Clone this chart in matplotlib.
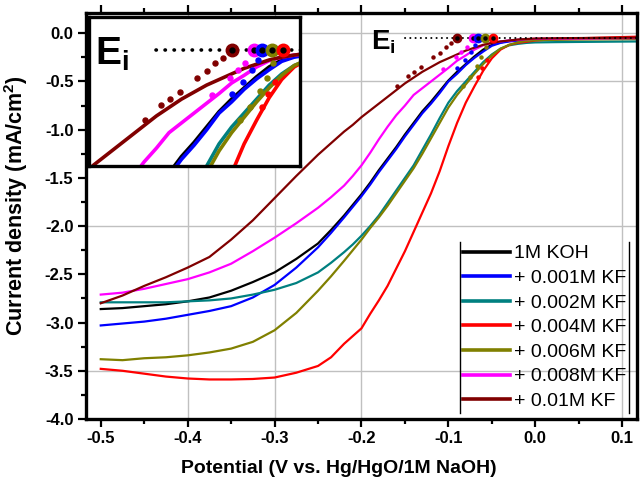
# -*- coding: utf-8 -*-
"""
LSV curves in 1M KOH with KF additions, with onset (E_i) inset.
"""

import matplotlib
matplotlib.use("Agg")
import matplotlib.pyplot as plt
from matplotlib.lines import Line2D

plt.rcParams['font.family'] = ['Liberation Sans', 'DejaVu Sans']
plt.rcParams['mathtext.fontset'] = 'custom'
plt.rcParams['mathtext.rm'] = 'Liberation Sans'
plt.rcParams['mathtext.bf'] = 'Liberation Sans:bold'
plt.rcParams['mathtext.it'] = 'Liberation Sans:italic'

#Data
potential = [-0.50, -0.475, -0.45, -0.425, -0.40, -0.375, -0.35, -0.325, -0.30, -0.275,
             -0.25, -0.235, -0.22, -0.21, -0.20, -0.19, -0.18, -0.17, -0.16, -0.15,
             -0.14, -0.13, -0.12, -0.11, -0.10, -0.09, -0.08, -0.07, -0.06, -0.05,
             -0.04, -0.03, -0.02, -0.01, 0.00, 0.025, 0.05, 0.12]

j_koh = [-2.86, -2.85, -2.83, -2.81, -2.78, -2.74, -2.67, -2.58, -2.48, -2.34,
         -2.18, -2.04, -1.89, -1.78, -1.67, -1.55, -1.42, -1.30, -1.18, -1.05,
         -0.93, -0.81, -0.71, -0.60, -0.49, -0.40, -0.32, -0.24, -0.17, -0.12,
         -0.095, -0.08, -0.072, -0.067, -0.063, -0.06, -0.058, -0.053]
j_001 = [-3.03, -3.01, -2.99, -2.96, -2.92, -2.88, -2.83, -2.74, -2.61, -2.43,
         -2.22, -2.07, -1.91, -1.80, -1.69, -1.57, -1.44, -1.32, -1.20, -1.07,
         -0.95, -0.83, -0.73, -0.62, -0.50, -0.42, -0.33, -0.255, -0.19, -0.13,
         -0.10, -0.085, -0.076, -0.07, -0.065, -0.062, -0.06, -0.055]
j_002 = [-2.79, -2.79, -2.79, -2.79, -2.78, -2.77, -2.75, -2.71, -2.66, -2.59,
         -2.48, -2.38, -2.27, -2.19, -2.10, -2.00, -1.89, -1.76, -1.63, -1.50,
         -1.37, -1.21, -1.05, -0.88, -0.72, -0.60, -0.50, -0.40, -0.30, -0.22,
         -0.16, -0.125, -0.11, -0.10, -0.095, -0.092, -0.09, -0.085]
j_004 = [-3.48, -3.50, -3.53, -3.56, -3.58, -3.59, -3.59, -3.585, -3.57, -3.52,
         -3.45, -3.36, -3.22, -3.14, -3.06, -2.91, -2.77, -2.62, -2.44, -2.26,
         -2.06, -1.86, -1.66, -1.43, -1.17, -0.93, -0.72, -0.55, -0.39, -0.26,
         -0.17, -0.12, -0.10, -0.088, -0.075, -0.06, -0.052, -0.035]
j_006 = [-3.38, -3.39, -3.37, -3.36, -3.34, -3.31, -3.27, -3.20, -3.08, -2.90,
         -2.67, -2.52, -2.36, -2.25, -2.14, -2.02, -1.91, -1.79, -1.66, -1.53,
         -1.40, -1.25, -1.09, -0.93, -0.77, -0.64, -0.53, -0.42, -0.32, -0.23,
         -0.16, -0.12, -0.095, -0.08, -0.072, -0.068, -0.065, -0.06]
j_008 = [-2.71, -2.69, -2.65, -2.60, -2.55, -2.48, -2.39, -2.26, -2.12, -1.97,
         -1.81, -1.70, -1.58, -1.48, -1.37, -1.24, -1.10, -0.97, -0.85, -0.75,
         -0.64, -0.57, -0.50, -0.43, -0.36, -0.285, -0.23, -0.17, -0.125, -0.10,
         -0.085, -0.075, -0.068, -0.062, -0.058, -0.056, -0.055, -0.05]
j_010 = [-2.80, -2.72, -2.62, -2.53, -2.43, -2.32, -2.14, -1.94, -1.71, -1.48,
         -1.26, -1.14, -1.02, -0.95, -0.87, -0.80, -0.73, -0.66, -0.59, -0.52,
         -0.46, -0.40, -0.35, -0.30, -0.26, -0.22, -0.18, -0.15, -0.12, -0.10,
         -0.085, -0.075, -0.065, -0.06, -0.055, -0.052, -0.05, -0.045]

labels = ["1M KOH", "+ 0.001M KF", "+ 0.002M KF", "+ 0.004M KF",
          "+ 0.006M KF", "+ 0.008M KF", "+ 0.01M KF"]
colors = ["#000000", "#0000ff", "#008080", "#ff0000", "#808000", "#ff00ff", "#800000"]
currents = [j_koh, j_001, j_002, j_004, j_006, j_008, j_010]

#Onset points (dotted tails) and E_i positions
tail_x = {
    "#800000": [-0.159, -0.146, -0.139, -0.131, -0.118, -0.110, -0.103, -0.097],
    "#ff00ff": [-0.106, -0.091, -0.085, -0.079],
    "#0000ff": [-0.090, -0.081, -0.074, -0.069],
    "#808000": [-0.083, -0.075, -0.067, -0.062, -0.057],
    "#ff0000": [-0.066, -0.061, -0.055],
}
tail_y = {
    "#800000": [-0.55, -0.44, -0.40, -0.35, -0.25, -0.20, -0.145, -0.105],
    "#ff00ff": [-0.37, -0.25, -0.19, -0.14],
    "#0000ff": [-0.36, -0.28, -0.19, -0.12],
    "#808000": [-0.55, -0.455, -0.34, -0.25, -0.145],
    "#ff0000": [-0.455, -0.36, -0.28],
}
ei_colors = ["#800000", "#ff00ff", "#0000ff", "#808000", "#ff0000"]
ei_x = [-0.0897, -0.072, -0.066, -0.058, -0.049]
ei_y = [-0.05, -0.05, -0.05, -0.05, -0.05]
guide_x = [-0.150, 0.120]
guide_y = [-0.05, -0.05]

#Figure
fig = plt.figure(figsize=(6.44, 4.9), dpi=100)
ax = fig.add_axes([0.1335, 0.1449, 0.8556, 0.8286])

for x0 in [-0.4, -0.3, -0.2, 0.1]:
    ax.axvline(x0, color="#c0c0c0", lw=1.0, zorder=0)
for y0 in [0.0, -0.5, -2.0, -3.5]:
    ax.axhline(y0, color="#c0c0c0", lw=1.0, zorder=0)

for j, c, lab in zip(currents, colors, labels):
    ax.plot(potential, j, color=c, lw=1.6, label=lab)

for c in ei_colors:
    ax.plot(tail_x[c], tail_y[c], ls="none", marker="o", ms=2.2, color=c)
ax.plot(guide_x, guide_y, color="k", lw=1.4, ls=(0, (0.1, 2.6)), dash_capstyle="round")
for x0, y0, c in zip(ei_x, ei_y, ei_colors):
    ax.plot(x0, y0, marker="o", ms=6, color=c, mec=c)
    ax.plot(x0, y0, marker="o", ms=2.2, color="k")

ax.text(-0.1885, -0.171, r"$\mathbf{E_i}$", fontsize=20)

ax.set_xlim(-0.517, 0.117)
ax.set_ylim(-4.0, 0.21)
ax.set_xticks([-0.5, -0.4, -0.3, -0.2, -0.1, 0.0, 0.1])
ax.set_xticks([-0.45, -0.35, -0.25, -0.15, -0.05, 0.05], minor=True)
ax.set_yticks([0.0, -0.5, -1.0, -1.5, -2.0, -2.5, -3.0, -3.5, -4.0])
ax.set_yticks([-0.25, -0.75, -1.25, -1.75, -2.25, -2.75, -3.25, -3.75], minor=True)
ax.xaxis.set_major_formatter(plt.FormatStrFormatter("%.1f"))
ax.yaxis.set_major_formatter(plt.FormatStrFormatter("%.1f"))
ax.tick_params(which="both", direction="out", top=True, right=False, width=1.6)
ax.tick_params(which="major", length=6, labelsize=12, pad=3)
ax.tick_params(which="minor", length=3.5)
for t in ax.get_xticklabels() + ax.get_yticklabels():
    t.set_fontweight("bold")
for s in ax.spines.values():
    s.set_linewidth(2.4)

ax.set_xlabel("Potential (V vs. Hg/HgO/1M NaOH)", fontsize=14, fontweight="bold")
ax.set_ylabel(r"Current density (mA/cm$^\mathbf{2}$)", fontsize=15.5, fontweight="bold")
ax.xaxis.set_label_coords(0.459, -0.1)
ax.yaxis.set_label_coords(-0.102, 0.525)

leg = ax.legend(loc="lower right", bbox_to_anchor=(0.9855, 0.0148), frameon=False,
                fontsize=14, handlelength=2.4, handletextpad=0.2, labelspacing=0.36,
                borderaxespad=0.0, borderpad=0.15)
for h in leg.get_lines():
    h.set_linewidth(2.6)

#Inset (zoom on the onset region)
axin = fig.add_axes([0.138, 0.661, 0.328, 0.304])
for j, c in zip(currents, colors):
    axin.plot(potential, j, color=c, lw=2.6)
for c in ei_colors:
    axin.plot(tail_x[c], tail_y[c], ls="none", marker="o", ms=3.6, color=c)
axin.plot(guide_x, guide_y, color="k", lw=2.6, ls=(0, (0.1, 2.4)), dash_capstyle="round")
for x0, y0, c in zip(ei_x, ei_y, ei_colors):
    axin.plot(x0, y0, marker="o", ms=9, color=c, mec=c)
    axin.plot(x0, y0, marker="o", ms=3.5, color="k")
axin.text(0.028, 0.678, r"$\mathbf{E_i}$", fontsize=28, transform=axin.transAxes)
axin.set_xlim(-0.204, -0.0353)
axin.set_ylim(-0.879, 0.186)
axin.set_xticks([])
axin.set_yticks([])
for s in axin.spines.values():
    s.set_linewidth(2.4)

#Legend side bars
fig.canvas.draw()
bb = leg.get_window_extent().transformed(fig.transFigure.inverted())
for xb in [bb.x0, bb.x1]:
    fig.add_artist(Line2D([xb, xb], [bb.y0, bb.y1], color="k", lw=1.0, transform=fig.transFigure))

fig.savefig("out.png", dpi=100)
